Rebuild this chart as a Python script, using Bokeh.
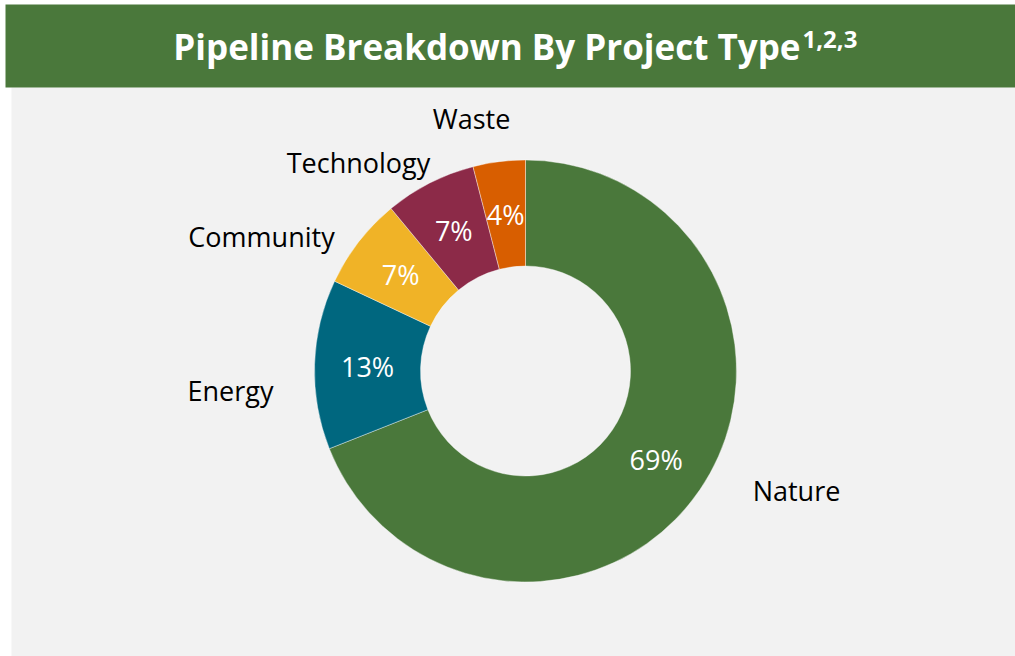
import math
from bokeh.plotting import figure
from bokeh.models import Range1d, ColumnDataSource
from bokeh.core.properties import value
from bokeh.embed import file_html
from bokeh.resources import INLINE

# ---- data ----
categories = ["Nature", "Energy", "Community", "Technology", "Waste"]
shares = [69, 13, 7, 7, 4]
pct_labels = ["69%", "13%", "7%", "7%", "4%"]
colors = ["#4A783B", "#00677F", "#F0B327", "#8C2A48", "#D85E00"]
title_main = "Pipeline Breakdown By Project Type"
title_sup = "1,2,3"

# ---- layout ----
W, H = 1015, 656
def dx(px):  # page pixel -> data x
    return px
def dy(py):  # page pixel -> data y
    return H - py

CX, CY = dx(525), dy(370.5)
R_OUT, R_IN = 211, 105
# outer category label anchors (offset from donut centre, pixels; text middle)
label_offsets = {
    "Nature": (271, -119.5),
    "Energy": (-295, -19.5),
    "Community": (-264, 134.5),
    "Technology": (-167, 209),
    "Waste": (-54, 253),
}

p = figure(width=W, height=H, x_range=Range1d(0, W), y_range=Range1d(0, H),
           output_backend="svg", toolbar_location=None, min_border=0)
p.axis.visible = False
p.grid.visible = False
p.outline_line_color = None
p.background_fill_color = "white"
p.border_fill_color = "white"

# panel background and title bar
p.quad(left=[dx(11)], right=[W + 10], bottom=[-10], top=[dy(87)],
       fill_color="#F2F2F2", line_color=None)
p.quad(left=[dx(5)], right=[W + 10], bottom=[dy(87)], top=[dy(4)],
       fill_color="#4A783B", line_color=None)

p.text(x=[dx(800)], y=[dy(46)], text=[title_main], text_align="right",
       text_baseline="middle", text_color="white",
       text_font=value("Open Sans"), text_font_style="bold", text_font_size="35px")
p.text(x=[dx(802)], y=[dy(39)], text=[title_sup], text_align="left",
       text_baseline="middle", text_color="white",
       text_font=value("Open Sans"), text_font_style="bold", text_font_size="24px")

# donut
total = sum(shares)
starts, ends, mids = [], [], []
acc = 0
for s in shares:
    a0 = math.pi / 2 - 2 * math.pi * acc / total
    acc += s
    a1 = math.pi / 2 - 2 * math.pi * acc / total
    starts.append(a0)
    ends.append(a1)
    mids.append((a0 + a1) / 2)

src = ColumnDataSource(dict(start=starts, end=ends, color=colors, cat=categories))
p.annular_wedge(x=CX, y=CY, inner_radius=R_IN, outer_radius=R_OUT,
                start_angle="start", end_angle="end", direction="clock",
                fill_color="color", line_color="white", line_width=0.4, source=src)

r_mid = (R_IN + R_OUT) / 2
px_ = [CX + r_mid * math.cos(m) for m in mids]
py_ = [CY + r_mid * math.sin(m) for m in mids]
p.text(x=px_, y=py_, text=pct_labels, text_align="center", text_baseline="middle",
       text_color="white", text_font=value("Open Sans"), text_font_size="27px")

lx = [CX + label_offsets[c][0] for c in categories]
ly = [CY + label_offsets[c][1] for c in categories]
p.text(x=lx, y=ly, text=categories, text_align="center", text_baseline="middle",
       text_color="black", text_font=value("Open Sans"), text_font_size="27px")

open("out.html", "w").write(file_html(p, INLINE))
